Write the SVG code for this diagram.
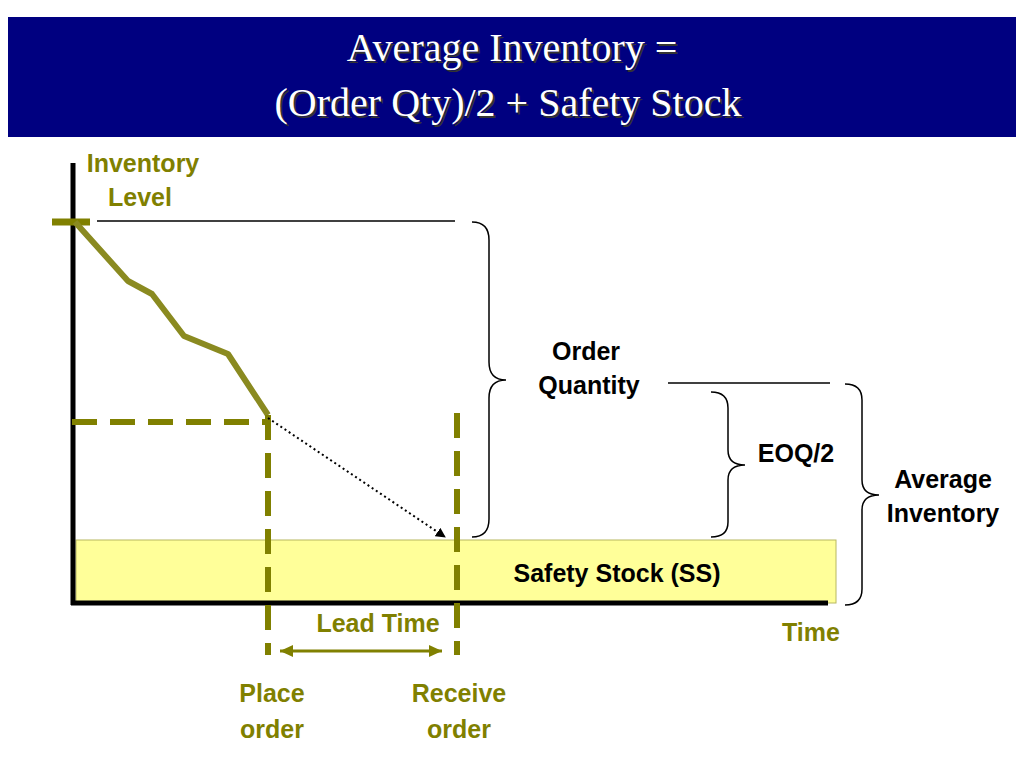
<svg xmlns="http://www.w3.org/2000/svg" width="1024" height="768" viewBox="0 0 1024 768">
<style>
.t{font-family:"Liberation Serif",serif;font-size:40px;fill:#fff;text-anchor:middle}
.ts{font-family:"Liberation Serif",serif;font-size:40px;fill:#333;text-anchor:middle}
.o{font-family:"Liberation Sans",Arial,sans-serif;font-size:25px;font-weight:bold;fill:#808000;text-anchor:middle}
.k{font-family:"Liberation Sans",Arial,sans-serif;font-size:25px;font-weight:bold;fill:#000;text-anchor:middle}
.br{fill:none;stroke:#000;stroke-width:1.5}
.dash{stroke:#808000;stroke-width:6;stroke-dasharray:25,13;fill:none}
</style>
<defs>
<marker id="ah" markerWidth="10" markerHeight="10" refX="9" refY="5" orient="auto-start-reverse" markerUnits="userSpaceOnUse"><path d="M0,0 L10,5 L0,10 z" fill="#000"/></marker>
<marker id="oh" markerWidth="14" markerHeight="14" refX="13" refY="7" orient="auto-start-reverse" markerUnits="userSpaceOnUse"><path d="M0,1 L13,7 L0,13 z" fill="#808000"/></marker>
</defs>
<rect width="1024" height="768" fill="#fff"/>
<g id="title">
<rect x="8" y="17" width="1008" height="120" fill="#000080"/>
<text class="ts" x="514" y="63">Average Inventory =</text>
<text class="t" x="512" y="61">Average Inventory =</text>
<text class="ts" x="510" y="118">(Order Qty)/2 + Safety Stock</text>
<text class="t" x="508" y="116">(Order Qty)/2 + Safety Stock</text>
</g>
<g id="safety-stock">
<rect x="76" y="540" width="760" height="63" fill="#ffff99" stroke="#b8b860" stroke-width="1"/>
<text class="k" x="617" y="582">Safety Stock (SS)</text>
</g>
<g id="axes">
<line x1="73" y1="163" x2="73" y2="605" stroke="#000" stroke-width="5"/>
<line x1="71" y1="603" x2="828" y2="603" stroke="#000" stroke-width="5"/>
<text class="o" x="143" y="172">Inventory</text>
<text class="o" x="140" y="206">Level</text>
<text class="o" x="811" y="641">Time</text>
</g>
<g id="connectors">
<line x1="97" y1="221" x2="455" y2="221" stroke="#000" stroke-width="1.5"/>
<line x1="668" y1="383" x2="830" y2="383" stroke="#000" stroke-width="1.5"/>
<line x1="52" y1="222" x2="90" y2="222" stroke="#808000" stroke-width="7"/>
<polyline points="75,222 128,281 152,294 184,336 228,354 268,415" fill="none" stroke="#8a8a20" stroke-width="6" stroke-linejoin="round"/>
<line class="dash" x1="72" y1="422" x2="268" y2="422"/>
<line class="dash" x1="268" y1="415" x2="268" y2="655"/>
<line class="dash" x1="457" y1="413" x2="457" y2="655"/>
<line x1="268" y1="418" x2="445" y2="537" stroke="#000" stroke-width="2" stroke-dasharray="2,3" marker-end="url(#ah)"/>
<line x1="280" y1="651" x2="442" y2="651" stroke="#808000" stroke-width="3" marker-start="url(#oh)" marker-end="url(#oh)"/>
<path class="br" d="M472,222 Q489,222 489,240 L489,362 Q489,380 506,380 Q489,380 489,398 L489,519 Q489,537 472,537"/>
<path class="br" d="M711,392 Q728,392 728,408 L728,450 Q728,465 745,465 Q728,465 728,480 L728,522 Q728,537 711,537"/>
<path class="br" d="M845,384 Q862,384 862,400 L862,480 Q862,495 879,495 Q862,495 862,510 L862,589 Q862,605 845,605"/>
</g>
<g id="labels">
<text class="k" x="586" y="360">Order</text>
<text class="k" x="589" y="394">Quantity</text>
<text class="k" x="796" y="462">EOQ/2</text>
<text class="k" x="943" y="488">Average</text>
<text class="k" x="943" y="522">Inventory</text>
<text class="o" x="378" y="632">Lead Time</text>
<text class="o" x="272" y="702">Place</text>
<text class="o" x="272" y="738">order</text>
<text class="o" x="459" y="702">Receive</text>
<text class="o" x="459" y="738">order</text>
</g>
</svg>
